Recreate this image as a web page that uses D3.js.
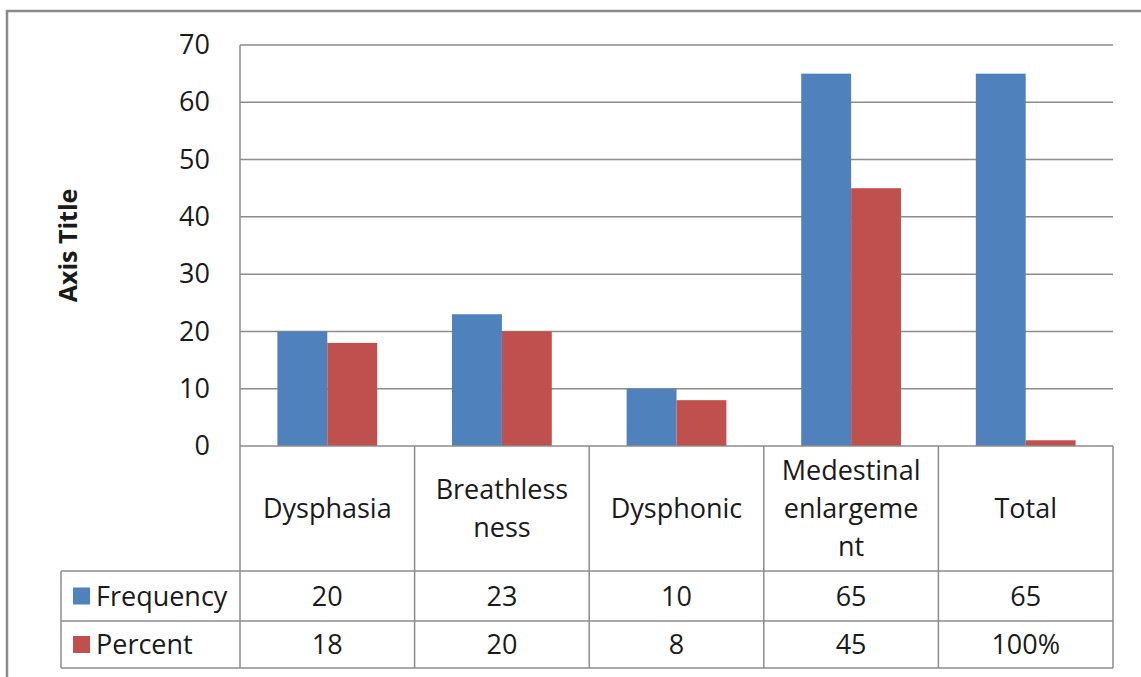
<!DOCTYPE html>
<html>
<head>
<meta charset="utf-8">
<script src="https://cdn.jsdelivr.net/npm/d3@7"></script>
<style>
  html, body { margin: 0; padding: 0; background: #fff; }
  svg { display: block; font-family: "Open Sans", "Noto Sans", sans-serif; }
</style>
</head>
<body>
<svg id="chart" width="1141" height="677"></svg>
<script>
// Symptom counts with a data table under the columns
const categoryLines = [
  ["Dysphasia"],
  ["Breathless", "ness"],
  ["Dysphonic"],
  ["Medestinal", "enlargeme", "nt"],
  ["Total"]
];
const seriesNames = ["Frequency", "Percent"];
const frequencyValues = [20, 23, 10, 65, 65];
const percentValues = [18, 20, 8, 45, 1];
const percentIsFraction = [false, false, false, false, true];
const yTicks = [0, 10, 20, 30, 40, 50, 60, 70];
const seriesColors = ["#4F81BD", "#C0504D"];
const axisTitle = "Axis Title";

const svg = d3.select("#chart");
const W = 1141, H = 677;

const plot = { left: 240, right: 1113, top: 45, bottom: 446 };
const table = { left: 61, catBottom: 571, row1Bottom: 621, row2Bottom: 668 };
const lineColor = "#8c8c8c";
const textColor = "#1a1a1a";

// Outer chart frame
svg.append("rect")
  .attr("x", 7).attr("y", 11)
  .attr("width", W + 20).attr("height", H + 20)
  .attr("fill", "#fff")
  .attr("stroke", "#8a8a8a")
  .attr("stroke-width", 2.5);

const idx = d3.range(categoryLines.length);
const x = d3.scaleBand().domain(idx).range([plot.left, plot.right]).padding(0);
const xs = d3.scaleBand().domain(seriesNames).range([0, x.bandwidth()])
  .paddingInner(0).paddingOuter(0.75);
const y = d3.scaleLinear().domain([0, 70]).range([plot.bottom, plot.top]);

// Gridlines
svg.append("g")
  .selectAll("line")
  .data(yTicks.filter(d => d > 0))
  .join("line")
  .attr("x1", plot.left).attr("x2", plot.right)
  .attr("y1", d => y(d)).attr("y2", d => y(d))
  .attr("stroke", lineColor).attr("stroke-width", 1.5);

// Y axis labels
const yAxis = d3.axisLeft(y).tickValues(yTicks).tickSize(0).tickPadding(30);
const gy = svg.append("g").attr("transform", `translate(${plot.left},0)`).call(yAxis);
gy.select(".domain").remove();
gy.selectAll("text")
  .attr("font-size", 27)
  .attr("font-family", "'Open Sans', sans-serif")
  .attr("fill", textColor);

// Axis title
svg.append("text")
  .attr("transform", `translate(77,${(plot.top + plot.bottom) / 2}) rotate(-90)`)
  .attr("text-anchor", "middle")
  .attr("font-size", 25)
  .attr("font-weight", "bold")
  .attr("fill", textColor)
  .text(axisTitle);

// Bars
const series = [frequencyValues, percentValues];
series.forEach((vals, si) => {
  svg.append("g")
    .selectAll("rect")
    .data(vals)
    .join("rect")
    .attr("x", (d, i) => x(i) + xs(seriesNames[si]))
    .attr("width", xs.bandwidth())
    .attr("y", d => y(d))
    .attr("height", d => y(0) - y(d))
    .attr("fill", seriesColors[si]);
});

// Data table grid
const grid = svg.append("g").attr("stroke", lineColor).attr("stroke-width", 1.5);
grid.append("line").attr("x1", plot.left).attr("x2", plot.right)
  .attr("y1", plot.bottom).attr("y2", plot.bottom);
[table.catBottom, table.row1Bottom, table.row2Bottom].forEach(yy => {
  grid.append("line").attr("x1", table.left).attr("x2", plot.right)
    .attr("y1", yy).attr("y2", yy);
});
grid.append("line").attr("x1", plot.left).attr("x2", plot.left)
  .attr("y1", plot.top).attr("y2", table.row2Bottom);
grid.append("line").attr("x1", table.left).attr("x2", table.left)
  .attr("y1", table.catBottom).attr("y2", table.row2Bottom);
idx.forEach(i => {
  const xr = x(i) + x.bandwidth();
  grid.append("line").attr("x1", xr).attr("x2", xr)
    .attr("y1", plot.bottom).attr("y2", table.row2Bottom);
});

// Category labels
const lineH = 38;
const catMid = (plot.bottom + table.catBottom) / 2;
const catG = svg.append("g").attr("font-size", 27).attr("fill", textColor)
  .attr("text-anchor", "middle");
categoryLines.forEach((lines, i) => {
  const cx = x(i) + x.bandwidth() / 2;
  const first = catMid - (lines.length - 1) * lineH / 2;
  lines.forEach((ln, k) => {
    catG.append("text")
      .attr("x", cx)
      .attr("y", first + k * lineH)
      .attr("dy", "0.36em")
      .text(ln);
  });
});

// Table value rows
const pctFmt = d3.format(".0%");
const rows = [
  { name: seriesNames[0], top: table.catBottom, bottom: table.row1Bottom,
    labels: frequencyValues.map(String) },
  { name: seriesNames[1], top: table.row1Bottom, bottom: table.row2Bottom,
    labels: percentValues.map((v, i) => percentIsFraction[i] ? pctFmt(v) : String(v)) }
];
rows.forEach((r, ri) => {
  const mid = (r.top + r.bottom) / 2;
  const g = svg.append("g").attr("font-size", 27).attr("fill", textColor);
  g.append("rect")
    .attr("x", 73).attr("y", mid - 8.5)
    .attr("width", 17).attr("height", 17)
    .attr("fill", seriesColors[ri]);
  g.append("text")
    .attr("x", 96).attr("y", mid).attr("dy", "0.36em")
    .text(r.name);
  r.labels.forEach((t, i) => {
    g.append("text")
      .attr("x", x(i) + x.bandwidth() / 2)
      .attr("y", mid).attr("dy", "0.36em")
      .attr("text-anchor", "middle")
      .text(t);
  });
});
</script>
</body>
</html>
